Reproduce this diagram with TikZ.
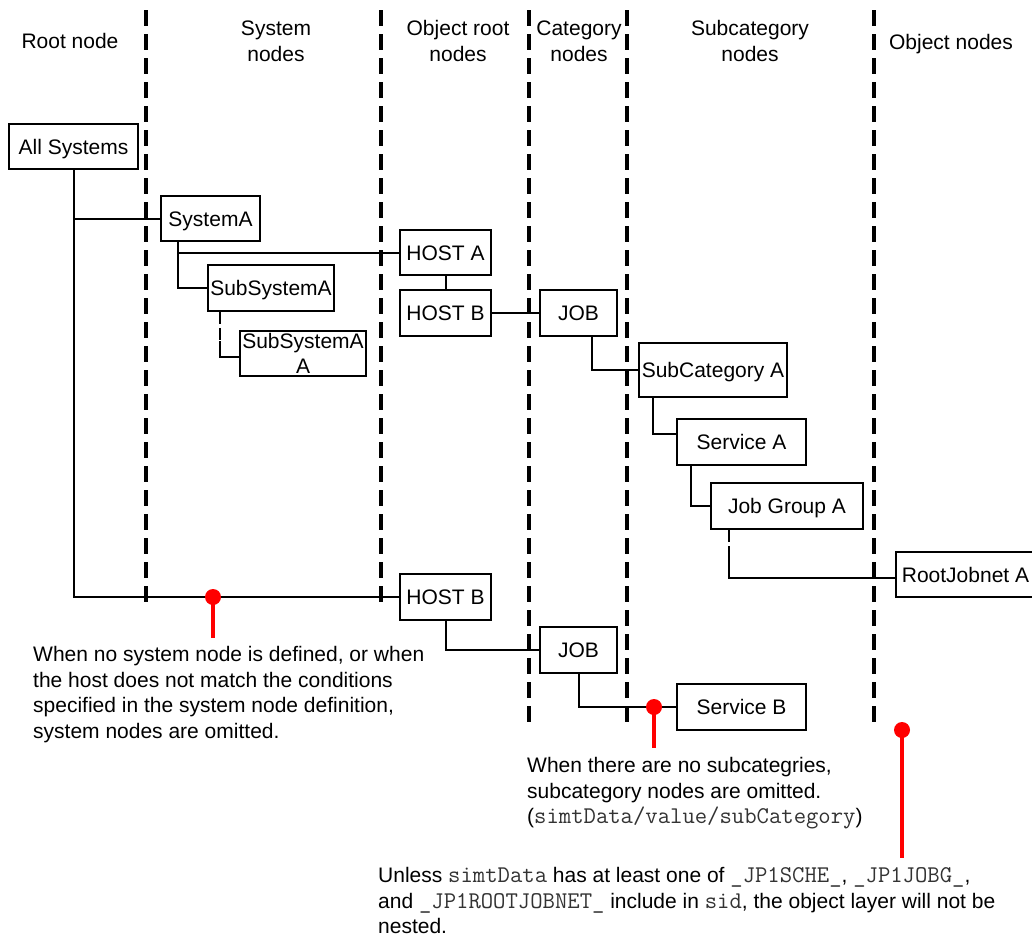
\documentclass[tikz,border=0pt]{standalone}
\usepackage{fontspec}
\setmainfont{Liberation Sans}
\newcommand\txtfont{\fontsize{21}{25.7}\selectfont}
\newcommand\boxfont{\fontsize{21}{25}\selectfont}
\newcommand\mt[1]{{\fontsize{24}{25.7}\selectfont\ttfamily\color{black!80}#1}}
\begin{document}
\begin{tikzpicture}[x=1pt,y=-1pt,
  sep/.style={line width=4pt, dash pattern=on 16pt off 8pt},
  conn/.style={line width=2pt},
  connd/.style={line width=2pt, dash pattern=on 12pt off 4pt},
  box/.style={draw, line width=2pt, fill=white, inner sep=0pt, minimum height=46pt, font=\boxfont, align=center},
  one/.style={text height=15pt, text depth=0pt},
  hdr/.style={inner sep=0pt, font=\txtfont, align=center},
  note/.style={inner sep=0pt, font=\txtfont, align=left, anchor=north west},
  redline/.style={red, line width=4pt}]
\clip (0,0) rectangle (1032,937);
\fill[white] (0,0) rectangle (1032,937);

% column separators
\draw[sep] (146,10) -- (146,603);
\draw[sep] (381,10) -- (381,603);
\draw[sep] (529,10) -- (529,723);
\draw[sep] (627,10) -- (627,723);
\draw[sep] (874,10) -- (874,723);

% headers
\node[hdr] (h1) at (70,41) {Root node};
\node[hdr] (h2) at (276,41) {System\\nodes};
\node[hdr] (h3) at (458,41) {Object root\\nodes};
\node[hdr] (h4) at (579,41) {Category\\nodes};
\node[hdr] (h5) at (750,41) {Subcategory\\nodes};
\node[hdr] (h6) at (951,44) {Object nodes};

% boxes
\node[box, one, minimum width=129pt, minimum height=45pt] (all) at (73.5,146.5) {All Systems};
\node[box, one, minimum width=99pt, minimum height=45pt] (sysA) at (210.5,218.5) {SystemA};
\node[box, one, minimum width=126pt] (subA) at (271,288) {SubSystemA};
\node[box, minimum width=126pt, minimum height=45pt] (subAA) at (303,353.5) {SubSystemA\\A};
\node[box, one, minimum width=91pt, minimum height=45pt] (hostA) at (445.5,252.5) {HOST A};
\node[box, one, minimum width=91pt] (hostB1) at (445.5,313) {HOST B};
\node[box, one, minimum width=77pt] (job1) at (578.5,313) {JOB};
\node[box, one, minimum width=148pt, minimum height=54pt] (subcatA) at (713,370) {SubCategory A};
\node[box, one, minimum width=129pt] (servA) at (741.5,442) {Service A};
\node[box, one, minimum width=152pt] (jgA) at (787,506) {Job Group A};
\node[box, one, minimum width=139pt, minimum height=45pt] (root) at (965.5,574.5) {RootJobnet A};
\node[box, one, minimum width=91pt] (hostB2) at (445.5,597) {HOST B};
\node[box, one, minimum width=77pt] (job2) at (578.5,650) {JOB};
\node[box, one, minimum width=129pt] (servB) at (741.5,707) {Service B};

% connectors
\draw[conn] (all.south) |- (hostB2.west);
\draw[conn] (all.south |- sysA.west) -- (sysA.west);
\coordinate (sA) at ([xshift=18pt]sysA.south west);
\draw[conn] (sA) |- (subA.west);
\draw[conn] (sA |- hostA.west) -- (hostA.west);
\coordinate (sB) at ([xshift=13pt]subA.south west);
\coordinate (sBm) at ([yshift=-29pt]sB);
\draw[connd] (sB) -- (sBm);
\draw[conn] (sBm) |- ([yshift=-3pt]subAA.west);
\draw[conn] (hostA.south) -- (hostB1.north);
\draw[conn] (hostB1.east) -- (job1.west);
\coordinate (jA) at ([xshift=53pt]job1.south west);
\draw[conn] (jA) |- (subcatA.west);
\coordinate (cA) at ([xshift=15pt]subcatA.south west);
\draw[conn] (cA) |- ([yshift=8pt]servA.west);
\coordinate (vA) at ([xshift=15pt]servA.south west);
\draw[conn] (vA) |- (jgA.west);
\coordinate (gA) at ([xshift=19pt]jgA.south west);
\coordinate (gAm) at ([yshift=-21pt]gA);
\draw[connd] (gA) -- (gAm);
\draw[conn] (gAm) |- ([yshift=-3pt]root.west);
\draw[conn] (hostB2.south) |- (job2.west);
\draw[conn] (job2.south) |- (servB.west);

% notes
\node[note] (n1) at (33,646) {When no system node is defined, or when\\the host does not match the conditions\\specified in the system node definition,\\system nodes are omitted.};
\node[note] (n2) at (527,757) {When there are no subcategries,\\subcategory nodes are omitted.\\(\mt{simtData/value/subCategory})};
\node[note] (n3) at (378,867) {Unless \mt{simtData} has at least one of \mt{\_JP1SCHE\_}, \mt{\_JP1JOBG\_},\\and \mt{\_JP1ROOTJOBNET\_} include in \mt{sid}, the object layer will not be\\nested.};

% red markers
\coordinate (d1) at (213,597);
\coordinate (d2) at (654,707);
\coordinate (d3) at (902,730);
\draw[redline] (d1) -- ([yshift=-41pt]d1);
\draw[redline] (d2) -- ([yshift=-41pt]d2);
\draw[redline] (d3) -- ([yshift=-128pt]d3);
\fill[red] (d1) circle (8pt);
\fill[red] (d2) circle (8pt);
\fill[red] (d3) circle (8pt);
\end{tikzpicture}
\end{document}
